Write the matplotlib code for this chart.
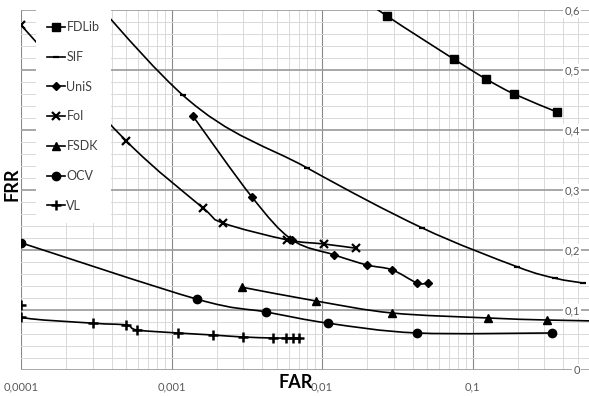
import numpy as np
import matplotlib
matplotlib.use("Agg")
import matplotlib.pyplot as plt
from matplotlib.path import Path
from matplotlib.patches import PathPatch
from matplotlib.lines import Line2D
from matplotlib.ticker import LogLocator, MultipleLocator, NullFormatter

plt.rcParams['font.family'] = ['Lato', 'DejaVu Sans']

# values (FAR, FRR)
fdlib_far = [0.0132, 0.0270, 0.0753, 0.123, 0.189, 0.364]
fdlib_frr = [0.645, 0.590, 0.518, 0.485, 0.460, 0.430]

sif_far = [0.0001, 0.00119, 0.00794, 0.0461, 0.198, 0.353, 0.542]
sif_frr = [0.76, 0.458, 0.337, 0.237, 0.172, 0.153, 0.145]

unis_far = [0.00139, 0.00343, 0.00632, 0.0120, 0.0199, 0.0292, 0.0428, 0.0506]
unis_frr = [0.423, 0.288, 0.217, 0.192, 0.175, 0.167, 0.145, 0.145]

foi_far = [0.0001, 0.000499, 0.00162, 0.00220, 0.00585, 0.0103, 0.0168]
foi_frr = [0.575, 0.382, 0.270, 0.245, 0.217, 0.210, 0.203]

fsdk_far = [0.00294, 0.00912, 0.0292, 0.127, 0.313, 1.0]
fsdk_frr = [0.138, 0.115, 0.095, 0.0867, 0.0833, 0.081]

ocv_far = [0.0001, 0.00148, 0.00425, 0.0110, 0.0428, 0.337]
ocv_frr = [0.212, 0.118, 0.0967, 0.078, 0.0617, 0.0617]

vl_far = [0.0001, 0.0001, 0.000301, 0.000499, 0.000590, 0.00110, 0.00189,
          0.00298, 0.00472, 0.00577, 0.00641, 0.00703]
vl_frr = [0.108, 0.088, 0.078, 0.075, 0.0667, 0.0617, 0.0583,
          0.055, 0.0533, 0.0533, 0.0533, 0.0533]

x_ticks = [0.0001, 0.001, 0.01, 0.1]
x_labels = ['0,0001', '0,001', '0,01', '0,1']
y_ticks = [0, 0.1, 0.2, 0.3, 0.4, 0.5, 0.6]
y_labels = ['0', '0,1', '0,2', '0,3', '0,4', '0,5', '0,6']

series = [
    ('FDLib', fdlib_far, fdlib_frr, 's', 5.5, 1.0),
    ('SIF', sif_far, sif_frr, '_', 5, 1.6),
    ('UniS', unis_far, unis_frr, 'D', 4.5, 1.0),
    ('FoI', foi_far, foi_frr, 'x', 6, 1.6),
    ('FSDK', fsdk_far, fsdk_frr, '^', 6, 1.0),
    ('OCV', ocv_far, ocv_frr, 'o', 6, 1.0),
    ('VL', vl_far, vl_frr, '+', 7, 1.8),
]


def smooth_path(xs, ys):
    # excel-like smoothed line: catmull-rom segments in (log x, y)
    pts = np.column_stack([np.log10(xs), ys])
    n = len(pts)
    verts = [pts[0]]
    codes = [Path.MOVETO]
    for i in range(n - 1):
        p0 = pts[i - 1] if i > 0 else pts[i]
        p1, p2 = pts[i], pts[i + 1]
        p3 = pts[i + 2] if i + 2 < n else pts[i + 1]
        verts += [p1 + (p2 - p0) / 6, p2 - (p3 - p1) / 6, p2]
        codes += [Path.CURVE4] * 3
    verts = np.array(verts)
    verts[:, 0] = 10 ** verts[:, 0]
    return Path(verts, codes)


fig = plt.figure(figsize=(5.89, 3.96), dpi=100)
ax = fig.add_axes([21 / 589, 1 - 370 / 396, 1 - 21 / 589, 360 / 396])
ax.set_xscale('log')
ax.set_xlim(1e-4, 0.594)
ax.set_ylim(0, 0.6)

handles = []
for name, xs, ys, mk, ms, mew in series:
    ax.add_patch(PathPatch(smooth_path(xs, ys), fill=False, edgecolor='black',
                           lw=1.2, zorder=3))
    ax.plot(xs, ys, ls='none', marker=mk, ms=ms, mew=mew, color='black', zorder=4)
    handles.append(Line2D([], [], color='black', lw=1.2, marker=mk, ms=ms, mew=mew,
                          label=name))

ax.set_xticks(x_ticks, x_labels)
ax.xaxis.set_minor_locator(LogLocator(base=10, subs=np.arange(2, 10)))
ax.xaxis.set_minor_formatter(NullFormatter())
ax.set_yticks(y_ticks, y_labels)
ax.yaxis.set_minor_locator(MultipleLocator(0.02))
ax.yaxis.tick_right()
ax.tick_params(axis='both', which='both', length=0, labelsize=8, labelcolor='#595959')
ax.tick_params(axis='x', pad=8.5)
ax.tick_params(axis='y', pad=-6.5)
for t in ax.get_yticklabels():
    t.set_horizontalalignment('right')
    t.set_bbox(dict(facecolor='white', edgecolor='none', pad=1))

ax.set_axisbelow(True)
ax.grid(which='minor', color='#d9d9d9', lw=0.7)
ax.grid(which='major', axis='y', color='#a0a0a0', lw=1.3)
ax.grid(which='major', axis='x', color='#888888', lw=0.8)
for s in ax.spines.values():
    s.set_visible(False)

leg = ax.legend(handles=handles, loc='upper left', bbox_to_anchor=(0.026, 1.0),
                borderaxespad=0, fontsize=9, labelspacing=1.42, handlelength=1.4,
                handletextpad=0.15, borderpad=0.9, frameon=True, fancybox=False,
                framealpha=1, facecolor='white', edgecolor='none', labelcolor='#404040')
leg.set_zorder(5)

fig.text(296 / 589, 1 - 388 / 396, 'FAR', ha='center', va='baseline',
         fontsize=13, fontweight='bold')
fig.text(12 / 589, 1 - 184 / 396, 'FRR', ha='center', va='center', rotation=90,
         fontsize=13, fontweight='bold')

fig.savefig('out.png', dpi=100)
